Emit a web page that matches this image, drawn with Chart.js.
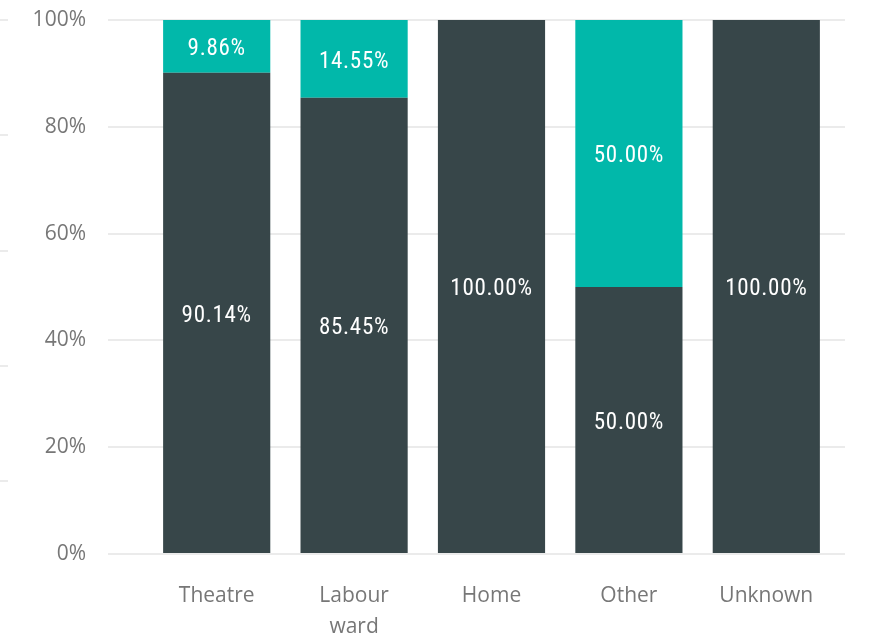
<!DOCTYPE html>
<html>
<head>
<meta charset="utf-8">
<script src="https://cdn.jsdelivr.net/npm/chart.js@4.4.1/dist/chart.umd.min.js"></script>
<style>
  html, body { margin: 0; padding: 0; background: #fff; }
  #wrap { width: 870px; height: 636px; position: relative; }
</style>
</head>
<body>
<div id="wrap"><canvas id="chart"></canvas></div>
<script>
// ---- data ----
const categories = ['Theatre', ['Labour', 'ward'], 'Home', 'Other', 'Unknown'];
const darkValues = [90.14, 85.45, 100, 50, 100];
const tealValues = [9.86, 14.55, 0, 50, 0];
const yTicks = [0, 20, 40, 60, 80, 100];

const colors = {
    dark: '#374649',
    teal: '#01B8AA',
    grid: '#ebebeb',
    tick: '#777777'
};

const labelFont = 'Open Sans';

// white % labels centred inside each segment
const segmentLabels = {
    id: 'segmentLabels',
    afterDatasetsDraw(chart) {
        const ctx = chart.ctx;
        ctx.save();
        ctx.font = '23px "Roboto Condensed", Roboto, sans-serif';
        ctx.letterSpacing = '0.7px';
        ctx.fillStyle = '#fff';
        ctx.textAlign = 'center';
        ctx.textBaseline = 'middle';
        chart.data.datasets.forEach((ds, i) => {
            chart.getDatasetMeta(i).data.forEach((bar, j) => {
                const v = ds.data[j];
                if (!v) return;
                const p = bar.getProps(['x', 'y', 'base'], true);
                // +3: middle baseline sits a bit high for digits
                ctx.fillText(v.toFixed(2) + '%', p.x, (p.y + p.base) / 2 + 3);
            });
        });
        ctx.restore();
    }
};

new Chart(document.getElementById('chart'), {
    type: 'bar',
    data: {
        labels: categories,
        datasets: [
            { label: 'Dark', data: darkValues, backgroundColor: colors.dark, barPercentage: 1, categoryPercentage: 0.78 },
            { label: 'Teal', data: tealValues, backgroundColor: colors.teal, barPercentage: 1, categoryPercentage: 0.78 }
        ]
    },
    options: {
        responsive: true,
        maintainAspectRatio: false,
        animation: false,
        layout: { padding: { top: 20, right: 25, bottom: 0, left: 0 } },
        plugins: { legend: { display: false }, tooltip: { enabled: false } },
        scales: {
            x: {
                stacked: true,
                grid: { display: false, drawTicks: false },
                border: { display: false },
                ticks: { color: colors.tick, font: { family: labelFont, size: 21, lineHeight: 1.5 }, padding: 26, autoSkip: false, maxRotation: 0 },
                afterFit: s => { s.height = 82; }
            },
            y: {
                stacked: true,
                min: 0,
                max: 100,
                afterBuildTicks: s => { s.ticks = yTicks.map(v => ({ value: v })); },
                grid: { color: colors.grid, lineWidth: 2, tickLength: 40 },
                border: { display: false },
                ticks: { color: colors.tick, font: { family: labelFont, size: 21 }, padding: 22, callback: v => v + '%' },
                // tick padding would otherwise push the plot down
                afterFit: s => { s.width = 140; s.paddingTop = 0; s.paddingBottom = 0; }
            },
            // short grid stubs past the right edge
            yRight: {
                position: 'right',
                min: 0,
                max: 100,
                afterBuildTicks: s => { s.ticks = yTicks.map(v => ({ value: v })); },
                grid: { color: colors.grid, lineWidth: 2, tickLength: 10, drawOnChartArea: false },
                border: { display: false },
                ticks: { display: false },
                afterFit: s => { s.width = 10; }
            },
            // faint marks at the far left edge
            yDeco: {
                position: 'left',
                weight: 10,
                reverse: true,
                min: 0,
                max: 4.63,
                afterBuildTicks: s => { s.ticks = [0, 1, 2, 3, 4].map(v => ({ value: v })); },
                grid: { color: colors.grid, lineWidth: 2, tickLength: 8, drawOnChartArea: false },
                border: { display: false },
                ticks: { display: false },
                afterFit: s => { s.width = 8; }
            }
        }
    },
    plugins: [segmentLabels]
});
</script>
</body>
</html>
